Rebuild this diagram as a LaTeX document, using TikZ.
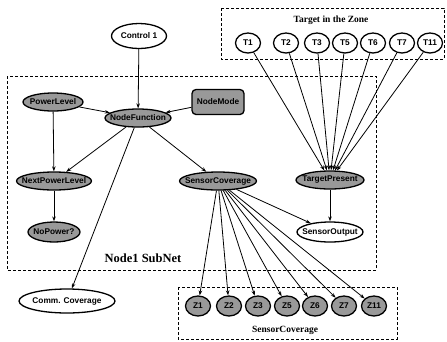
\documentclass[tikz,border=0pt]{standalone}
\usepackage{fontspec}
\setmainfont{Liberation Serif}
\setsansfont{Liberation Sans}
\usetikzlibrary{shapes.geometric,arrows.meta}
\newcommand\zb[1]{\makebox[0pt]{#1}}
\begin{document}
\begin{tikzpicture}[x=1pt,y=-1pt,
 nd/.style={ellipse,draw,line width=1.3pt,inner sep=0pt,minimum height=18pt,font=\sffamily\bfseries\fontsize{8.3}{9}\selectfont},
 gr/.style={nd,fill=black!40},
 wt/.style={nd,fill=white},
 sm/.style={minimum width=25pt,minimum height=20pt},
 edge/.style={-{Stealth[length=5pt,width=3.5pt]},line width=0.8pt},
 box/.style={draw,line width=1pt,dash pattern=on 3pt off 2pt},
 lab/.style={inner sep=0pt,font=\rmfamily\bfseries}]
\useasboundingbox (0,0) rectangle (447,341);
% dashed boxes
\draw[box] (7,76) rectangle (376,270);
\draw[box] (221,8) rectangle (444,59);
\draw[box] (178,287) rectangle (397,339);
\node[lab,font=\rmfamily\bfseries\fontsize{12.5}{14}\selectfont] (sublab) at (143,258) {Node1 SubNet};
\node[lab,font=\rmfamily\bfseries\fontsize{9.5}{11}\selectfont] (tzlab) at (331,20) {Target in the Zone};
\node[lab,font=\rmfamily\bfseries\fontsize{9.5}{11}\selectfont] (sclab) at (285,330) {SensorCoverage};
% nodes
\node[wt,minimum width=55pt,minimum height=25pt] (c1) at (139,36) {\zb{Control 1}};
\node[gr,minimum width=60pt] (pl) at (53,102) {\zb{PowerLevel}};
\node[draw,line width=1.3pt,fill=black!40,rounded corners=4pt,minimum width=52pt,minimum height=25pt,inner sep=0pt,font=\sffamily\bfseries\fontsize{8.3}{9}\selectfont] (nm) at (218,102) {\zb{NodeMode}};
\node[gr,minimum width=66pt] (nf) at (138,118) {\zb{NodeFunction}};
\node[gr,minimum width=75pt] (npl) at (54,181) {\zb{NextPowerLevel}};
\node[gr,minimum width=52pt,minimum height=20pt] (np) at (54,232) {\zb{NoPower?}};
\node[gr,minimum width=77pt] (sc) at (218,181) {\zb{SensorCoverage}};
\node[gr,minimum width=68pt] (tp) at (330,180) {\zb{TargetPresent}};
\node[wt,minimum width=66pt,minimum height=20pt] (so) at (330,232) {\zb{SensorOutput}};
\node[wt,minimum width=96pt,minimum height=24pt] (cc) at (67,301) {\zb{Comm. Coverage}};
% targets
\foreach \n/\x in {1/248,2/286,3/317,5/345,6/373,7/402,11/430}{
  \node[wt,sm] (t\n) at (\x,43) {\zb{T\n}};
  \draw[edge] (t\n) -- (tp);
}
% zones
\foreach \n/\x in {1/198,2/229,3/258,5/287,6/315,7/344,11/374}{
  \node[gr,sm] (z\n) at (\x,306) {\zb{Z\n}};
  \draw[edge] (sc) -- (z\n);
}
% edges
\draw[edge] (c1) -- (nf);
\draw[edge] (pl) -- (nf);
\draw[edge] (nm) -- (nf);
\draw[edge] (pl) -- (npl);
\draw[edge] (nf) -- (npl);
\draw[edge] (nf) -- (sc);
\draw[edge] (nf) -- (cc);
\draw[edge] (npl) -- (np);
\draw[edge] (sc) -- (so);
\draw[edge] (tp) -- (so);
\end{tikzpicture}
\end{document}
